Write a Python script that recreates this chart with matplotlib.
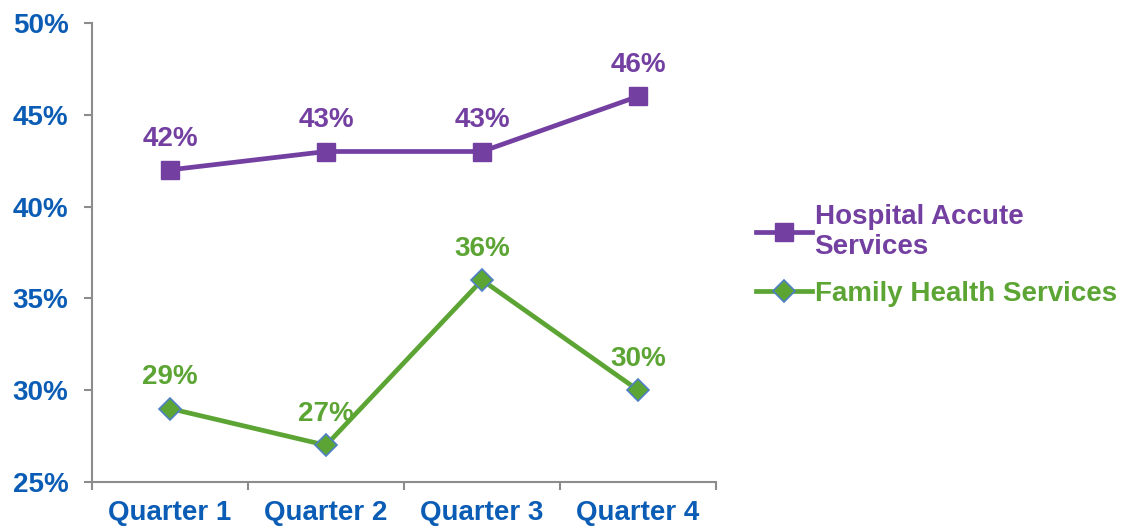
import matplotlib

matplotlib.use("Agg")
import matplotlib.pyplot as plt
from matplotlib.ticker import FixedLocator, FuncFormatter

quarters = ["Quarter 1", "Quarter 2", "Quarter 3", "Quarter 4"]
hospital = [42, 43, 43, 46]
family = [29, 27, 36, 30]
series_names = ["Hospital Accute\nServices", "Family Health Services"]

PURPLE = "#7340A2"
GREEN = "#5CA534"
BLUE = "#0B5CB5"
GREY = "#8C8C8C"

plt.rcParams["font.family"] = ["Liberation Sans", "DejaVu Sans"]
plt.rcParams["font.weight"] = "bold"

fig = plt.figure(figsize=(11.25, 5.26), dpi=100)
ax = fig.add_axes([0.0818, 0.0837, 0.5547, 0.8726])

x = list(range(len(quarters)))
ax.plot(x, hospital, color=PURPLE, lw=3.4, marker="s", ms=13,
        mfc=PURPLE, mec=PURPLE, label=series_names[0], zorder=3)
ax.plot(x, family, color=GREEN, lw=3.4, marker="D", ms=11,
        mfc=GREEN, mec="#4F7FC4", mew=1.2, label=series_names[1], zorder=3)

for xi, v in zip(x, hospital):
    ax.annotate(f"{v}%", (xi, v), xytext=(0, 13), textcoords="offset points",
                ha="center", va="bottom", color=PURPLE, fontsize=20,
                fontweight="bold")
for xi, v in zip(x, family):
    ax.annotate(f"{v}%", (xi, v), xytext=(0, 13), textcoords="offset points",
                ha="center", va="bottom", color=GREEN, fontsize=20,
                fontweight="bold")

ax.set_xlim(-0.5, 3.5)
ax.set_ylim(25, 50)
ax.yaxis.set_major_locator(FixedLocator([25, 30, 35, 40, 45, 50]))
ax.yaxis.set_major_formatter(FuncFormatter(lambda v, _: f"{v:.0f}%"))
ax.set_xticks(x)
ax.set_xticklabels(quarters)
ax.xaxis.set_minor_locator(FixedLocator([-0.5, 0.5, 1.5, 2.5, 3.5]))

for side in ("top", "right"):
    ax.spines[side].set_visible(False)
for side in ("left", "bottom"):
    ax.spines[side].set_color(GREY)
    ax.spines[side].set_linewidth(1.5)

ax.tick_params(axis="y", direction="out", length=6, width=1.5, color=GREY,
               labelcolor=BLUE, labelsize=20, pad=11)
ax.tick_params(axis="x", which="major", length=0, labelcolor=BLUE,
               labelsize=20, pad=13)
ax.tick_params(axis="x", which="minor", direction="out", length=6,
               width=1.5, color=GREY)
for lbl in ax.get_xticklabels() + ax.get_yticklabels():
    lbl.set_fontweight("bold")

leg = fig.legend(loc="upper left", bbox_to_anchor=(0.650, 0.660),
                 frameon=False, fontsize=20, handlelength=2.0,
                 handletextpad=0.1, labelspacing=0.75)
for text, col in zip(leg.get_texts(), (PURPLE, GREEN)):
    text.set_color(col)
    text.set_fontweight("bold")

fig.savefig("out.png", dpi=100)
